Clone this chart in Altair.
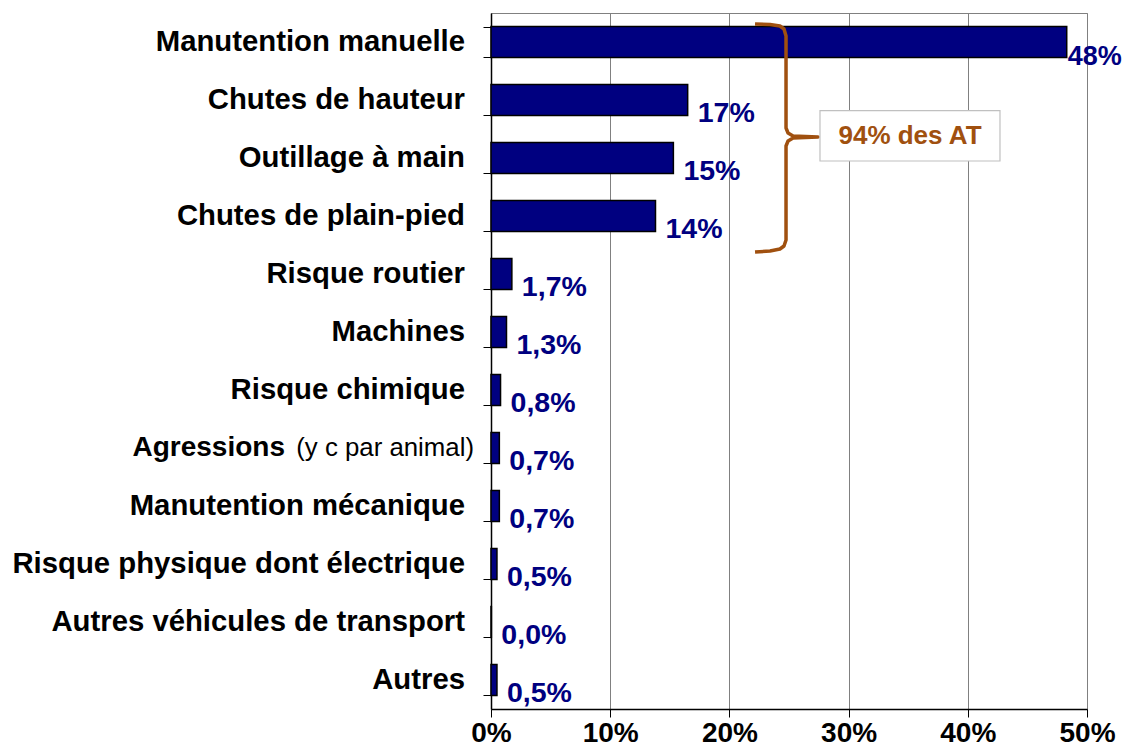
import altair as alt
import pandas as pd

# ---- data ----
categories = [
    "Manutention manuelle", "Chutes de hauteur", "Outillage à main",
    "Chutes de plain-pied", "Risque routier", "Machines", "Risque chimique",
    "Agressions", "Manutention mécanique", "Risque physique dont électrique",
    "Autres véhicules de transport", "Autres",
]
values = [48.3, 16.5, 15.3, 13.8, 1.75, 1.3, 0.8, 0.7, 0.7, 0.5, 0.03, 0.5]
value_labels = ["48%", "17%", "15%", "14%", "1,7%", "1,3%", "0,8%", "0,7%",
                "0,7%", "0,5%", "0,0%", "0,5%"]
x_ticks = [0, 10, 20, 30, 40, 50]
note_text = "(y c par animal)"
note_category = "Agressions"
brace_text = "94% des AT"

# brace annotation (x in %, y in category-row units from the top)
brace_x = [22.15, 23.41, 24.24, 24.58, 24.75, 24.75, 24.92, 25.34, 27.43,
           25.34, 24.92, 24.75, 24.75, 24.58, 24.24, 23.41, 22.15]
brace_y = [0.19, 0.198, 0.224, 0.276, 0.397, 1.983, 2.069, 2.121, 2.138,
           2.155, 2.207, 2.293, 3.914, 4.017, 4.069, 4.103, 4.121]
box_x = [27.6, 42.7]
box_y = [1.684, 2.552]

NAVY = "#000080"
BROWN = "#A0500F"
FONT = "Liberation Sans"

df = pd.DataFrame({"cat": categories, "value": values, "lab": value_labels})
brace_df = pd.DataFrame({"x": brace_x, "y": brace_y, "o": list(range(len(brace_x)))})
box_df = pd.DataFrame({"x": [box_x[0]], "x2": [box_x[1]], "y": [box_y[0]], "y2": [box_y[1]]})
txt_df = pd.DataFrame({"x": [sum(box_x) / 2], "y": [sum(box_y) / 2], "t": [brace_text]})

xscale = alt.Scale(domain=[0, 50], nice=False, zero=True)
xaxis = alt.Axis(values=x_ticks, labelExpr="datum.value + '%'", grid=True,
                 gridColor="#808080", gridWidth=1, domainColor="black",
                 domainWidth=1.5, tickColor="black", tickSize=8, tickWidth=1,
                 labelFont=FONT, labelFontSize=28, labelFontWeight="bold",
                 labelColor="black", labelPadding=2, labelFlush=False,
                 labelOverlap=False, title=None)
X = alt.X("value:Q", scale=xscale, axis=xaxis, title=None)

yscale = alt.Scale(domain=categories, paddingInner=0.466, paddingOuter=0.233)
yaxis = alt.Axis(labels=False, tickBand="extent", domainColor="black",
                 domainWidth=1.5, tickColor="black", tickSize=8, tickWidth=1,
                 grid=False, title=None)
Y = alt.Y("cat:N", sort=categories, scale=yscale, axis=yaxis, title=None)

base = alt.Chart(df)

bars = base.mark_bar(color=NAVY, stroke="black", strokeWidth=1.5).encode(x=X, y=Y)

vlab_top = base.transform_filter(alt.datum.cat == categories[0]).mark_text(
    align="left", baseline="middle", dx=1, dy=15, font=FONT, fontSize=27,
    fontWeight="bold", color=NAVY).encode(x=X, y=Y, text="lab:N")
vlab_rest = base.transform_filter(alt.datum.cat != categories[0]).mark_text(
    align="left", baseline="middle", dx=10, dy=13, font=FONT, fontSize=28.5,
    fontWeight="bold", color=NAVY).encode(x=X, y=Y, text="lab:N")

catlab = base.transform_filter(alt.datum.cat != note_category).mark_text(
    align="right", baseline="middle", font=FONT, fontSize=29.3,
    fontWeight="bold", color="black").encode(x=alt.value(-26), y=Y, text="cat:N")
agr_bold = base.transform_filter(alt.datum.cat == note_category).mark_text(
    align="right", baseline="middle", font=FONT, fontSize=28,
    fontWeight="bold", color="black").encode(x=alt.value(-206), y=Y, text="cat:N")
agr_note = base.transform_filter(alt.datum.cat == note_category).mark_text(
    align="right", baseline="middle", font=FONT, fontSize=25.8,
    fontWeight="normal", color="black", text=note_text).encode(x=alt.value(-17), y=Y)

main = alt.layer(bars, vlab_top, vlab_rest, catlab, agr_bold, agr_note)

yq = alt.Scale(domain=[0, len(categories)], reverse=True, nice=False, zero=False)
XA = alt.X("x:Q", scale=xscale, axis=xaxis, title=None)

brace = alt.Chart(brace_df).mark_line(color=BROWN, strokeWidth=3.5,
                                      strokeJoin="round", strokeCap="butt").encode(
    x=XA, y=alt.Y("y:Q", scale=yq, axis=None), order="o:Q")
box = alt.Chart(box_df).mark_rect(fill="white", stroke="#C0C0C0", strokeWidth=1.2).encode(
    x=XA, x2="x2:Q", y=alt.Y("y:Q", scale=yq, axis=None), y2="y2:Q")
boxtext = alt.Chart(txt_df).mark_text(font=FONT, fontSize=26, fontWeight="bold",
                                      color=BROWN, align="center", baseline="middle").encode(
    x=XA, y=alt.Y("y:Q", scale=yq, axis=None), text="t:N")

annot = alt.layer(brace, box, boxtext)

chart = alt.layer(main, annot).resolve_scale(y="independent").properties(
    width=596, height=696,
    autosize=alt.AutoSizeParams(type="none"),
    padding={"left": 483, "top": 5, "right": 36, "bottom": 38},
).configure_view(stroke="#808080", strokeWidth=1)

chart.save("out.html", embed_options={"renderer": "svg", "actions": False})
